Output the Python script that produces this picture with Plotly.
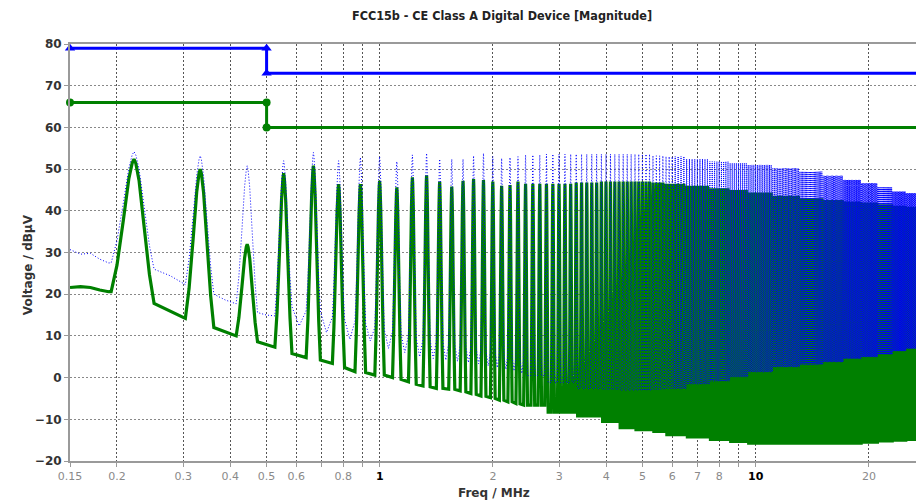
import numpy as np
import plotly.graph_objects as go

# ---------------- data ----------------
# limit lines (FCC15b class A)
limit_f = [0.15, 0.5, 0.5, 30.0]
qp_limit = [79, 79, 73, 73]
avg_limit = [66, 66, 60, 60]

# level before the first harmonic
pre_f = [0.15, 0.16, 0.17, 0.18, 0.19]
pre_green = [21.6, 21.8, 21.6, 21.0, 20.6]
pre_blue = [30.7, 29.6, 29.8, 28.4, 27.5]

# resolved harmonics (MHz)
peak_f = [0.222, 0.333, 0.444, 0.555, 0.666, 0.777, 0.888, 0.999, 1.110, 1.221,
          1.332, 1.443, 1.554, 1.665, 1.776, 1.887, 1.998, 2.109, 2.220, 2.331]
green_peak = [52.4, 50.0, 32.0, 49.0, 50.8, 46.4, 46.4, 47.2, 45.6, 48.0,
              48.5, 47.0, 45.8, 47.2, 47.6, 47.4, 47.0, 46.0, 46.2, 47.0]
blue_peak = [54.2, 53.2, 50.8, 52.0, 54.0, 52.0, 52.8, 53.0, 51.8, 53.4,
             53.8, 52.4, 52.4, 52.4, 53.2, 53.8, 53.0, 52.6, 52.8, 53.0]
# floor between harmonics (start / end of each gap)
green_gap_start = [17.8, 12.0, 8.6, 5.8, 4.2, 2.4, 1.2, 0.6, -0.4, -1.6,
                   -2.2, -2.6, -2.8, -3.4, -4.0, -4.5, -5.0, -5.4, -5.8, -6.3]
green_gap_end = [14.2, 10.0, 7.3, 4.8, 3.4, 1.4, 0.6, 0.0, -1.0, -2.0,
                 -2.6, -2.8, -3.2, -3.8, -4.4, -4.8, -5.4, -5.8, -6.2, -6.6]
blue_gap_start = [26.0, 20.0, 15.6, 17.0, 16.0, 14.0, 13.0, 11.5, 10.5, 9.5,
                  9.0, 8.5, 8.0, 7.5, 7.0, 6.5, 6.0, 5.5, 5.0, 4.5]
blue_gap_mid = [24.4, 18.6, 15.0, 12.4, 10.8, 9.2, 8.8, 7.0, 6.0, 5.0,
                4.6, 4.2, 3.9, 3.6, 3.3, 2.8, 2.4, 2.0, 1.6, 1.0]
blue_gap_end = [22.3, 17.7, 14.8, 16.0, 14.5, 13.5, 12.0, 11.0, 10.0, 9.2,
                8.8, 8.2, 7.8, 7.2, 6.8, 6.2, 5.8, 5.2, 4.8, 4.2]

# dense region: harmonic spacing and envelope read at these frequencies
harm_spacing = 0.111
env_f = [2.4, 3.0, 3.6, 4.0, 4.5, 5.0, 5.5, 6.0, 7.0, 8.0, 9.0, 10.0, 12.0,
         14.0, 16.0, 18.0, 20.0, 22.0, 24.0, 26.0, 28.0, 30.0]
env_green_top = [46.5, 46.5, 46.8, 47.0, 47.0, 47.0, 46.8, 46.5, 46.0, 45.4, 45.0,
                 44.4, 43.6, 43.0, 42.6, 42.2, 42.0, 41.6, 41.2, 41.0, 40.8, 40.6]
env_green_bot = [-6.6, -8.3, -9.2, -10.5, -12.0, -12.5, -12.9, -13.7, -14.2, -14.8,
                 -15.3, -15.7, -15.7, -15.7, -15.7, -15.7, -15.5, -15.2, -15.0,
                 -14.8, -14.5, -14.4]
env_blue_top = [53.4, 53.6, 53.6, 53.6, 53.6, 53.6, 53.2, 53.0, 52.4, 51.8, 51.4,
                51.0, 50.2, 49.4, 48.4, 47.4, 46.6, 45.6, 44.6, 44.2, 44.4, 44.4]
env_blue_bot = [0.5, -1.2, -2.6, -2.8, -3.0, -3.0, -2.8, -2.6, -1.5, -0.8, 0.2,
                1.4, 2.6, 3.2, 3.8, 4.6, 5.0, 5.6, 6.4, 7.0, 7.8, 8.0]

x_tick_vals = [0.15, 0.2, 0.3, 0.4, 0.5, 0.6, 0.7, 0.8, 0.9, 1, 2, 3, 4, 5, 6, 7, 8, 9, 10, 20]
x_tick_text = ["0.15", "0.2", "0.3", "0.4", "0.5", "0.6", "", "0.8", "", "1",
               "2", "3", "4", "5", "6", "7", "8", "", "10", "20"]
x_bold_ticks = ["1", "10"]

# ---------------- build spectra ----------------
PROF_DF = [-0.029, -0.022, -0.014, -0.007, -0.0025, 0.0, 0.0025, 0.007, 0.014, 0.022, 0.029]
PROF_FR = [1.0, 0.8, 0.46, 0.15, 0.03, 0.0, 0.03, 0.15, 0.46, 0.8, 1.0]

ef = np.array(env_f)
dense_f = [round(harm_spacing * n, 4) for n in range(len(peak_f) + 2, 272)]
near = [int(np.abs(ef - f).argmin()) for f in dense_f]

all_f = list(peak_f) + dense_f
g_top = list(green_peak) + [env_green_top[k] for k in near]
g_s = list(green_gap_start) + [env_green_bot[k] for k in near]
g_e = list(green_gap_end) + [env_green_bot[k] for k in near]
b_top = list(blue_peak) + [env_blue_top[k] for k in near]
b_s = list(blue_gap_start) + [env_blue_bot[k] for k in near]
b_m = list(blue_gap_mid) + [env_blue_bot[k] for k in near]
b_e = list(blue_gap_end) + [env_blue_bot[k] for k in near]


def build(pf, py, freqs, tops, starts, ends, mids=None):
    xs, ys = list(pf), list(py)
    left = py[-1]
    for i, f in enumerate(freqs):
        top = tops[i]
        for df, fr in zip(PROF_DF, PROF_FR):
            floor = left if df < 0 else starts[i]
            xs.append(f + df)
            ys.append(top - fr * (top - floor))
        if mids is not None and i < len(freqs) - 1:
            xs.append(0.5 * (f + freqs[i + 1]))
            ys.append(mids[i])
        left = ends[i]
    return xs, ys


gx, gy = build(pre_f, pre_green, all_f, g_top, g_s, g_e)
bx, by = build(pre_f, pre_blue, all_f, b_top, b_s, b_e, b_m)

# the dotted blue trace gets denser dots where the harmonics crowd together
split = next(i for i, v in enumerate(bx) if v >= 6.0)

# ---------------- figure ----------------
fig = go.Figure()
fig.add_trace(go.Scatter(x=gx, y=gy, mode="lines",
                         line=dict(color="#008000", width=3.2, simplify=False),
                         hoverinfo="skip"))
fig.add_trace(go.Scatter(x=bx[:split + 1], y=by[:split + 1], mode="lines",
                         line=dict(color="#0000ff", width=1, dash="1px,2px", simplify=False),
                         hoverinfo="skip"))
fig.add_trace(go.Scatter(x=bx[split:], y=by[split:], mode="lines",
                         line=dict(color="#0000ff", width=1, dash="1px,1px", simplify=False),
                         hoverinfo="skip"))
fig.add_trace(go.Scatter(x=limit_f, y=avg_limit, mode="lines+markers",
                         line=dict(color="#008000", width=3),
                         marker=dict(symbol="circle", size=8, color="#008000"),
                         cliponaxis=False, hoverinfo="skip"))
fig.add_trace(go.Scatter(x=limit_f, y=qp_limit, mode="lines+markers",
                         line=dict(color="#0000ff", width=3),
                         marker=dict(symbol="triangle-up", size=9, color="#0000ff"),
                         cliponaxis=False, hoverinfo="skip"))

tick_txt = []
for t in x_tick_text:
    if t in x_bold_ticks:
        tick_txt.append('<span style="color:#000000"><b>%s</b></span>' % t)
    else:
        tick_txt.append(t)

FONT = "DejaVu Sans"
# the page body has an 8px margin, so the figure is 8px smaller and shifted
fig.update_layout(
    width=916, height=495,
    margin=dict(l=62, r=0, t=36, b=42),
    paper_bgcolor="white", plot_bgcolor="white",
    showlegend=False,
    font=dict(family=FONT, color="#222"),
    title=dict(text="<b>FCC15b - CE Class A Digital Device [Magnitude]</b>",
               x=494 / 916, xref="container", xanchor="center",
               y=1 - 8 / 495, yref="container", yanchor="middle",
               font=dict(family="DejaVu Sans Condensed, DejaVu Sans", size=12.5, color="#222")),
)
fig.update_xaxes(
    type="log", range=[np.log10(0.15), 1.4474],
    tickvals=x_tick_vals, ticktext=tick_txt,
    tickfont=dict(family=FONT, size=11, color="#8a8a8a"),
    showgrid=True, gridcolor="#555", griddash="2px,2px", gridwidth=1,
    showline=True, linecolor="#9a9a9a", linewidth=2, mirror=True,
    ticks="outside", ticklen=4, tickcolor="#9a9a9a",
    zeroline=False,
)
fig.update_yaxes(
    range=[-20, 80], tickmode="linear", tick0=-20, dtick=10,
    tickfont=dict(family=FONT, size=12, color="#333", weight="bold"),
    showgrid=True, gridcolor="#888", griddash="2px,2px", gridwidth=1,
    showline=True, linecolor="#9a9a9a", linewidth=2,
    ticks="outside", ticklen=4, tickcolor="#9a9a9a",
    zeroline=False,
)
fig.add_annotation(text="<b>Voltage / dBµV</b>", textangle=-90,
                   xref="paper", yref="paper", x=-0.049, y=0.47,
                   xanchor="center", yanchor="middle", showarrow=False,
                   font=dict(family=FONT, size=12, color="#333"))
fig.add_annotation(text="<b>Freq / MHz</b>",
                   xref="paper", yref="paper", x=0.497, y=-0.076,
                   xanchor="center", yanchor="middle", showarrow=False,
                   font=dict(family=FONT, size=12, color="#333"))

fig.write_html("out.html")
